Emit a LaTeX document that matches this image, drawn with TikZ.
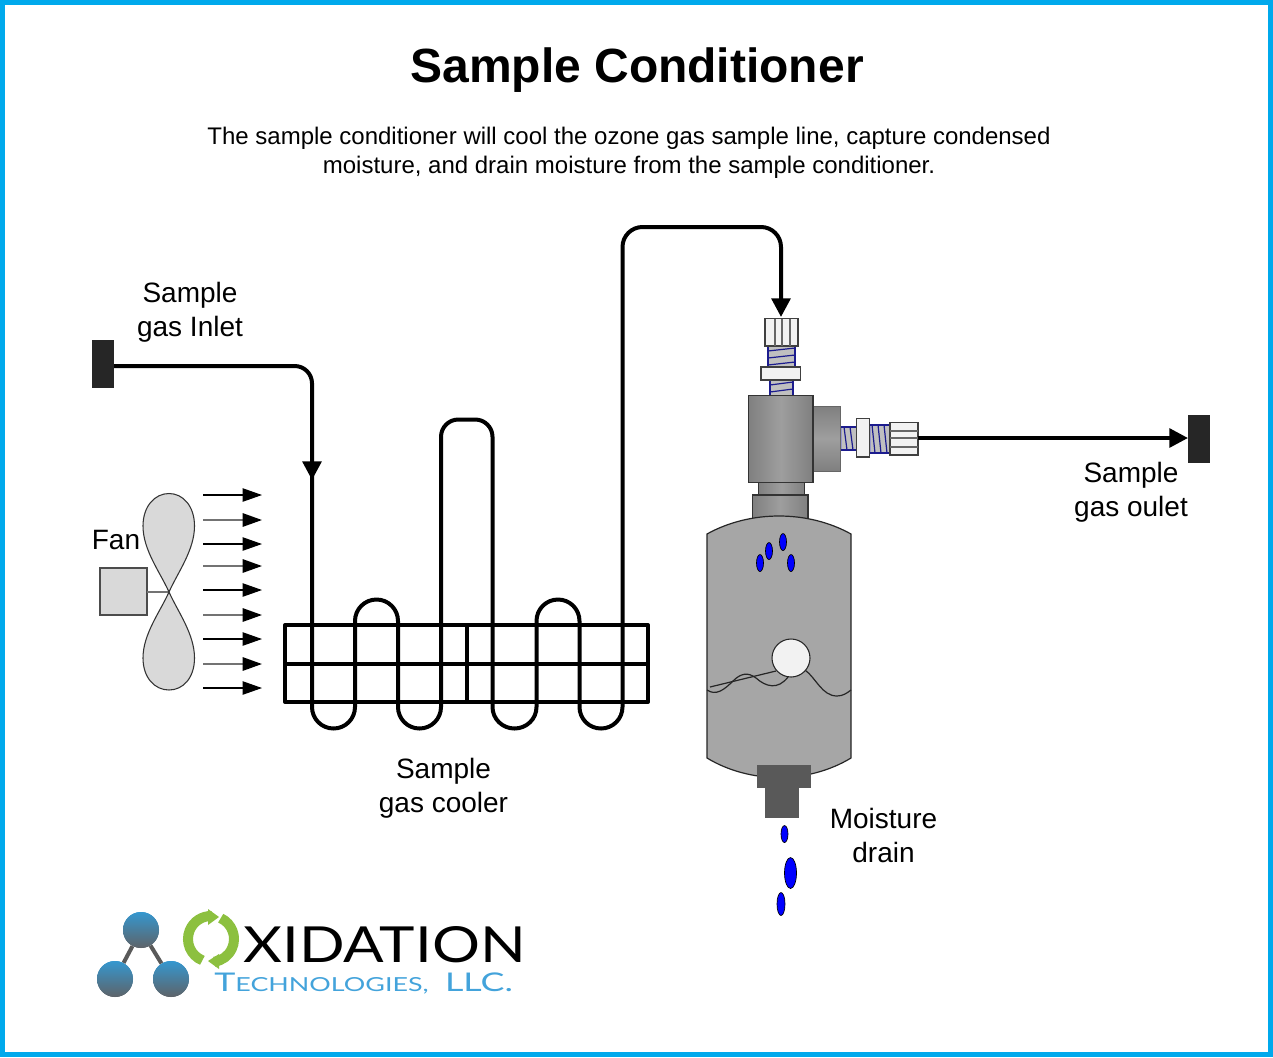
\documentclass[tikz,border=0pt]{standalone}
\usepackage{fontspec}
\usepackage{graphicx}
\setmainfont{Liberation Sans}
\newfontfamily\logofont{Lato}
\usetikzlibrary{arrows.meta,calc}
\definecolor{frameblue}{HTML}{00A9EC}
\definecolor{tankgray}{HTML}{A6A6A6}
\definecolor{fangray}{HTML}{D9D9D9}
\definecolor{nutwhite}{HTML}{F2F2F2}
\definecolor{threadgray}{HTML}{C0C0C0}
\definecolor{threadblue}{HTML}{1C1C8E}
\definecolor{darkblock}{HTML}{262626}
\definecolor{drain}{HTML}{595959}
\definecolor{logogreen}{HTML}{8CC03F}
\definecolor{logoblue}{HTML}{43A3DB}
\definecolor{ballblue}{HTML}{3597CF}
\definecolor{ballgray}{HTML}{5E6368}
\tikzset{
  titletext/.style={font=\fontsize{36}{40}\selectfont\bfseries,inner sep=0},
  bodytext/.style={font=\fontsize{18}{22}\selectfont,inner sep=0},
  labeltext/.style={font=\fontsize{21}{25.5}\selectfont,align=center,inner sep=0},
  pipe/.style={line width=3pt,black,line join=round},
  tipped/.style={-{Triangle[length=14pt,width=14pt]}},
  roundpipe/.style={pipe,rounded corners=13pt},
  endblock/.style={fill=darkblock,draw=darkblock,line width=.5pt,minimum width=16pt,minimum height=35.5pt,inner sep=0},
  blowthin/.style={line width=.8pt,black,-{Triangle[length=14.5pt,width=10pt]}},
  blowgray/.style={line width=1.4pt,black!55,-{Triangle[length=14.5pt,width=10pt,black]}},
  petal/.style={fill=fangray,draw=black!80,line width=.8pt},
  nut/.style={fill=nutwhite,draw=black!75,line width=1pt},
  nutline/.style={black!60,line width=1.1pt},
  threadbox/.style={fill=threadgray,draw=threadblue!45,line width=.5pt},
  threadline/.style={threadblue,line width=.9pt},
  castv/.style={left color=black!50,right color=black!50,middle color=black!38,draw=black!80,line width=1pt},
  casth/.style={top color=black!50,bottom color=black!50,middle color=black!38,draw=black!60,line width=.6pt},
  droplet/.style={fill=blue,draw=black,line width=.5pt},
  ballnode/.style={circle,minimum size=27pt,inner sep=0,top color=ballblue,bottom color=ballgray,draw=none},
  logoring/.style={logogreen,line width=7.5pt},
}
\begin{document}
\begin{tikzpicture}[x=.75pt,y=-.75pt]
\useasboundingbox (0,0) rectangle (1273,1057);
\fill[white] (0,0) rectangle (1273,1057);
\draw[frameblue,line width=3.6pt] (2.5,2.5) rectangle (1270.5,1054.5);

% texts
\node[titletext] (title) at (637,70.5) {Sample Conditioner};
\node[bodytext] (line1) at (629,138) {The sample conditioner will cool the ozone gas sample line, capture condensed};
\node[bodytext] (line2) at (629,167) {moisture, and drain moisture from the sample conditioner.};
\node[labeltext] (inletlabel) at (190,312) {Sample\\gas Inlet};
\node[labeltext] (fanlabel) at (116,540) {Fan};
\node[labeltext] (coolerlabel) at (443.500,788) {Sample\\gas cooler};
\node[labeltext] (outletlabel) at (1131,492) {Sample\\gas oulet};
\node[labeltext] (drainlabel) at (883.500,835.5) {Moisture\\drain};

% fan
\fill[fangray,draw=black!70,line width=.8pt] (100,568) rectangle (147,615);
\coordinate (hub) at (169,592);
\draw[black!55,line width=1.4pt] (147,592) -- (hub);
\draw[petal] (hub) .. controls (160,572) and (143,550) .. (143,526)
  .. controls (143,506) and (155,493.5) .. (169,493.5)
  .. controls (183,493.5) and (194.500,506) .. (194.500,526)
  .. controls (194.500,550) and (178,572) .. (hub) -- cycle;
\draw[petal] (hub) .. controls (160,612) and (143,634) .. (143,658)
  .. controls (143,678) and (155,690) .. (169,690)
  .. controls (183,690) and (194.500,678) .. (194.500,658)
  .. controls (194.500,634) and (178,612) .. (hub) -- cycle;
\foreach \yy in {495,544,590,639,688}{\draw[blowthin] (203,\yy) -- (262,\yy);}
\foreach \yy in {520,566,615,664}{\draw[blowgray] (203,\yy) -- (262,\yy);}

% cooler grid
\draw[pipe] (285,625) rectangle (648,702);
\draw[pipe] (285,663.5) -- (648,663.5);
\draw[pipe] (467,625) -- (467,702);

% inlet and coil
\node[endblock] (inblock) at (103,364) {};
\coordinate (inturn) at (312,366);
\coordinate (inarrow) at (312,480);
\draw[roundpipe] (inblock.east |- inturn) -- (inturn) -- (312,470);
\draw[pipe,tipped] (312,462) -- (inarrow);
\draw[pipe] (312,475) -- (312,707)
  arc[start angle=180,end angle=0,x radius=21.5,y radius=21.5]
  -- (355,621) arc[start angle=180,end angle=360,x radius=21.5,y radius=21.5]
  -- (398,707) arc[start angle=180,end angle=0,x radius=21.5,y radius=21.5]
  [rounded corners=13pt] -- (441,419.500) -- (492.500,419.500) [sharp corners] -- (492.500,707)
  arc[start angle=180,end angle=0,x radius=22,y radius=21.5]
  -- (536.500,621) arc[start angle=180,end angle=360,x radius=21.5,y radius=21.5]
  -- (579.500,707) arc[start angle=180,end angle=0,x radius=21.5,y radius=21.5]
  [rounded corners=15pt] -- (622.500,227) -- (781,227) -- (781,300);
\coordinate (topin) at (781,317);
\draw[pipe,tipped] (781,295) -- (topin);

% top fitting
\fill[threadbox] (768,346) rectangle (795,367);
\foreach \yy in {351,358,365}{\draw[threadline] (768,\yy) -- (795,\yy-3);}
\draw[threadline] (768,346) -- (768,367) (795,346) -- (795,367);
\fill[threadbox] (770,380) rectangle (793,395);
\foreach \yy in {385,392}{\draw[threadline] (770,\yy) -- (793,\yy-3);}
\draw[threadline] (770,380) -- (770,395) (793,380) -- (793,395);
\draw[nut] (765,318.500) rectangle (798,346);
\draw[nutline] (775,319) -- (775,346) (782,319) -- (782,346) (790,319) -- (790,346);
\draw[nut] (761,367) rectangle (800.500,380);

% valve body
\draw[casth] (813.500,406) rectangle (840.500,471);
\draw[castv] (748.500,395.500) rectangle (813,482.500);
\draw[castv] (758.500,482.500) rectangle (804.500,495);
\draw[castv] (752.500,495) rectangle (808,518.500);

% side fitting
\fill[threadbox] (841,427) rectangle (856,450);
\foreach \xx in {844,850}{\draw[threadline] (\xx,427) -- (\xx+3,450);}
\draw[threadline] (841,427) -- (856,427) (841,450) -- (856,450);
\fill[threadbox] (870,425) rectangle (890,453);
\foreach \xx in {872,878,884}{\draw[threadline] (\xx,425) -- (\xx+3,453);}
\draw[threadline] (870,425) -- (890,425) (870,453) -- (890,453);
\draw[nut] (856.500,418.500) rectangle (869.500,457);
\draw[nut] (890,422.500) rectangle (918,455);
\draw[nutline] (890,431) -- (918,431) (890,438) -- (918,438) (890,447) -- (918,447);

% outlet
\node[endblock] (outblock) at (1199,439) {};
\coordinate (outstart) at (918,438);
\draw[pipe,tipped] (outstart) -- (outblock.west |- outstart);

% tank
\draw[fill=tankgray,draw=black!85,line width=.9pt] (707,534)
  .. controls (750,510) and (808,510) .. (851,534) -- (851,758)
  .. controls (808,784) and (750,784) .. (707,758) -- cycle;
\draw[black!85,line width=.9pt] (707,690) .. controls (716,696) and (724,690) .. (733,681)
  .. controls (741,673) and (748,672) .. (756,678)
  .. controls (766,687) and (778,690) .. (788,677);
\draw[black!85,line width=.9pt] (805,670) .. controls (816,678) and (822,696) .. (837,696)
  .. controls (843,696) and (847,693) .. (851,690);
\draw[black!85,line width=.9pt] (710,687) -- (776,671);
\node[circle,fill=nutwhite,draw=black!85,line width=.8pt,minimum size=28.500pt,inner sep=0] (floatball) at (791,658) {};
\fill[drain] (757,765) rectangle (811,788);
\fill[drain] (765,788) rectangle (799,818);
\foreach \cx/\cy/\rx/\ry in {760/563/3.5/8.5, 769/551/3.5/8.5, 783/542/3.5/8.5, 791/563/3.5/8.5, 784.500/834/3.5/8.500, 790.500/873/6/15.500, 781/904/4/11.500}{
  \draw[droplet] (\cx,\cy) ellipse[x radius=\rx,y radius=\ry];
}

% logo
\node[ballnode] (ballA) at (141,930) {};
\node[ballnode] (ballB) at (115,979) {};
\node[ballnode] (ballC) at (171,979) {};
\draw[black!65,line width=3pt] (ballA) -- (ballB) (ballA) -- (ballC);
\node[ballnode] at (ballA) {};
\node[ballnode] at (ballB) {};
\node[ballnode] at (ballC) {};
\coordinate (ringc) at (211,939);
\draw[logoring] ($(ringc)+(112:23)$) arc[start angle=112,end angle=272,radius=23];
\draw[logoring] ($(ringc)+(-65:23)$) arc[start angle=-65,end angle=82,radius=23];
\fill[logogreen] (208,909) -- (219,917) -- (208,925) -- cycle;
\fill[logogreen] (219,954) -- (208,961) -- (219,969) -- cycle;
\node[inner sep=0,anchor=west] (logotop) at (243,945) {\resizebox{212pt}{27pt}{\logofont XIDATION}};
\node[inner sep=0,anchor=west,text=logoblue] (logobottom) at (214,983.500) {\resizebox{224pt}{14pt}{\logofont\fontsize{24}{24}\selectfont T\fontsize{18}{18}\selectfont ECHNOLOGIES,\hspace{11pt}\fontsize{24}{24}\selectfont LLC.}};
\end{tikzpicture}
\end{document}
